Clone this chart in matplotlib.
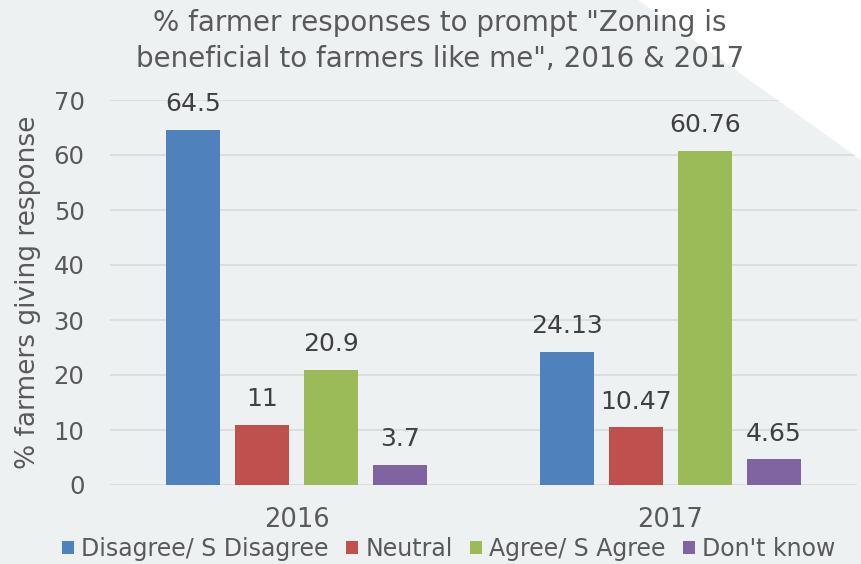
import matplotlib
matplotlib.use("Agg")
import matplotlib.pyplot as plt
import numpy as np
from matplotlib.patches import Polygon

years = ["2016", "2017"]
series = ["Disagree/ S Disagree", "Neutral", "Agree/ S Agree", "Don't know"]
values = {
    "Disagree/ S Disagree": [64.5, 24.13],
    "Neutral": [11, 10.47],
    "Agree/ S Agree": [20.9, 60.76],
    "Don't know": [3.7, 4.65],
}
labels = {
    "Disagree/ S Disagree": ["64.5", "24.13"],
    "Neutral": ["11", "10.47"],
    "Agree/ S Agree": ["20.9", "60.76"],
    "Don't know": ["3.7", "4.65"],
}
colors = ["#4F81BD", "#C0504D", "#9BBB59", "#8064A2"]
yticks = [0, 10, 20, 30, 40, 50, 60, 70]

plt.rcParams['font.family'] = ['DejaVu Sans']
txt = "#404040"

fig = plt.figure(figsize=(8.61, 5.64), dpi=100)
fig.patch.set_facecolor("#EEF1F2")
tri = Polygon([(638/861, 1.0), (1.0, 1.0), (1.0, 1 - 160/564)], closed=True,
              transform=fig.transFigure, facecolor="white", edgecolor="none", zorder=0)
fig.patches.append(tri)

ax = fig.add_axes([109.5/861, 1 - 485/564, 748/861, (485 - 100)/564])
ax.set_facecolor("none")
x = np.arange(len(years))
bw = 0.147
step = 0.1845
for i, (s, c) in enumerate(zip(series, colors)):
    off = (i - 1.5) * step
    ax.bar(x + off, values[s], width=bw, color=c, label=s, zorder=3)
    for xi, v, lab in zip(x + off, values[s], labels[s]):
        ax.annotate(lab, (xi, v), xytext=(0, 10), textcoords="offset points",
                    ha="center", va="bottom", fontsize=18, color=txt)

ax.set_xlim(-0.5, 1.5)
ax.set_ylim(0, 70)
ax.set_yticks(yticks)
ax.set_xticks(x)
ax.set_xticklabels(years)
ax.tick_params(axis="y", length=0, labelsize=17.5, labelcolor="#595959", pad=18)
ax.tick_params(axis="x", length=0, labelsize=18.5, labelcolor="#595959", pad=16)
ax.grid(axis="y", color="#DADCDD", linewidth=1.3, zorder=0)
for sp in ax.spines.values():
    sp.set_visible(False)
ax.set_ylabel("% farmers giving response", fontsize=19, color="#595959")
ax.yaxis.set_label_coords(-0.092, 0.5)

fig.text(440/861, 1 - 41/564, '% farmer responses to prompt "Zoning is\nbeneficial to farmers like me", 2016 & 2017',
         ha="center", va="center", fontsize=20, color="#595959", linespacing=1.4)

fig.legend(loc="center", bbox_to_anchor=(449/861, 1 - 549/564), ncol=4,
           frameon=False, fontsize=17, handlelength=0.5, handleheight=0.5,
           handletextpad=0.3, columnspacing=0.75, labelcolor="#595959",
           borderaxespad=0, borderpad=0)

fig.savefig("out.png", dpi=100, facecolor=fig.get_facecolor())
